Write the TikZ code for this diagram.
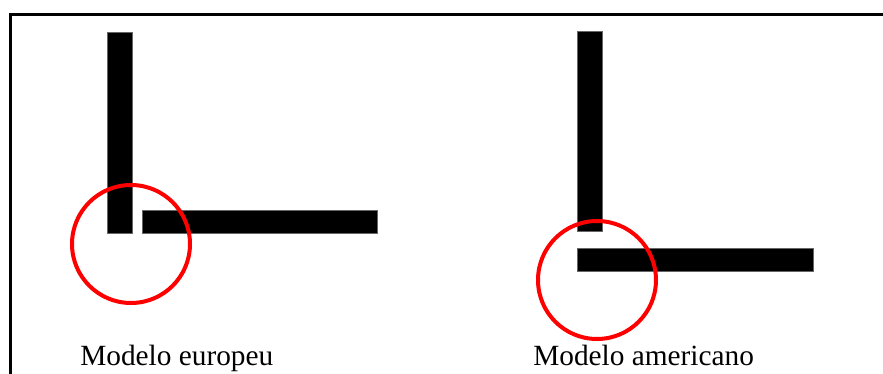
\documentclass[tikz,border=0pt]{standalone}
\usepackage{fontspec}
\setmainfont{Liberation Serif}
\usepackage{tikz}
\usetikzlibrary{positioning}

\begin{document}
\begin{tikzpicture}[
    x=0.75pt, y=-0.75pt,
    every node/.style={font=\fontsize{22}{26}\selectfont},
    bar/.style={fill=black, draw=black!60, line width=0.3pt},
    ring/.style={draw=red, line width=3pt},
    frame/.style={draw=black, line width=2.25pt},
    caption/.style={anchor=base west, inner sep=0pt}
]
\useasboundingbox (0,0) rectangle (883,374);

% === Frame (top and left only) ===
\draw[frame] (10,374) -- (10,15) -- (883,15);

% === Left: European model ===
\fill[bar] (107,32) rectangle (132,233);
\fill[bar] (142,210) rectangle (377,233);
\draw[ring] (131,244) circle (59);
\node[caption] (eu) at (80,366) {Modelo europeu};

% === Right: American model ===
\fill[bar] (577,31) rectangle (602,231);
\fill[bar] (577,248) rectangle (813,271);
\draw[ring] (597,280) circle (59);
\node[caption] (us) at (533,366) {Modelo americano};

\end{tikzpicture}
\end{document}
